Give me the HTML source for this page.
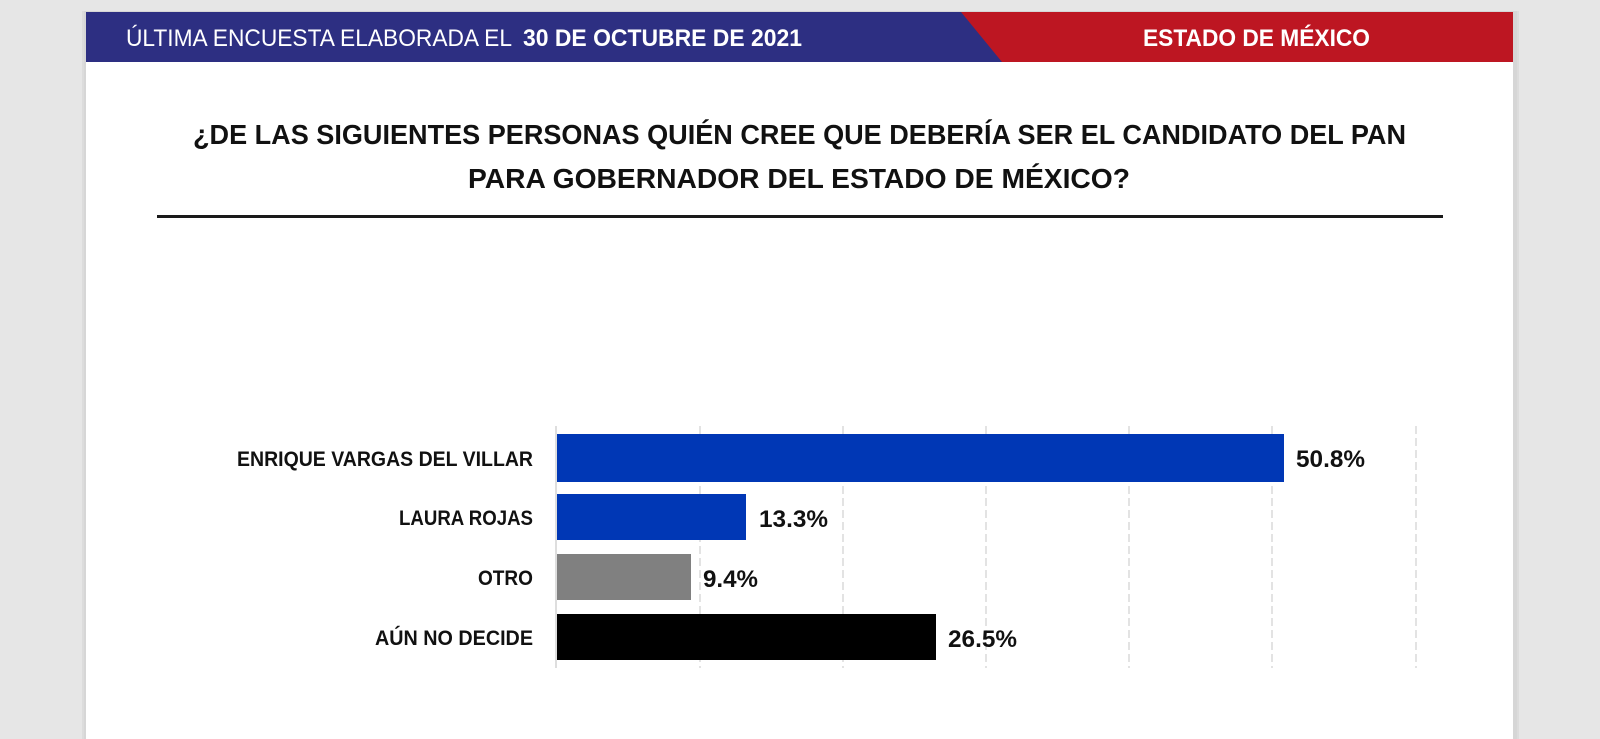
<!DOCTYPE html>
<html>
<head>
<meta charset="utf-8">
<style>
  html, body { margin: 0; padding: 0; background: #e6e6e6; }
  body { width: 1600px; height: 739px; overflow: hidden; }
  svg { display: block; }
  text { font-family: "Liberation Sans", Arial, sans-serif; }
</style>
</head>
<body>
<svg width="1600" height="739" viewBox="0 0 1600 739" xmlns="http://www.w3.org/2000/svg">
  <!-- page background -->
  <rect x="0" y="0" width="1600" height="739" fill="#e6e6e6"/>
  <!-- card shadow -->
  <rect x="82" y="11" width="1437" height="728" fill="#dcdcdc"/>
  <rect x="84" y="11" width="1433" height="728" fill="#d6d6d6"/>
  <!-- card -->
  <rect x="86" y="12" width="1427" height="727" fill="#ffffff"/>

  <!-- header band -->
  <rect x="86" y="12" width="1427" height="50" fill="#2d2f82"/>
  <polygon points="961,12 1513,12 1513,62 1002,62" fill="#bd1622"/>

  <text x="126" y="46" font-size="24" fill="#ffffff" textLength="386" lengthAdjust="spacingAndGlyphs">ÚLTIMA ENCUESTA ELABORADA EL</text>
  <text x="523" y="46" font-size="24" font-weight="bold" fill="#ffffff" textLength="279" lengthAdjust="spacingAndGlyphs">30 DE OCTUBRE DE 2021</text>
  <text x="1143" y="46" font-size="24" font-weight="bold" fill="#ffffff" textLength="227" lengthAdjust="spacingAndGlyphs">ESTADO DE MÉXICO</text>

  <!-- title -->
  <text x="193" y="144" font-size="28" font-weight="bold" fill="#111111" textLength="1213" lengthAdjust="spacingAndGlyphs">¿DE LAS SIGUIENTES PERSONAS QUIÉN CREE QUE DEBERÍA SER EL CANDIDATO DEL PAN</text>
  <text x="468" y="188" font-size="28" font-weight="bold" fill="#111111" textLength="662" lengthAdjust="spacingAndGlyphs">PARA GOBERNADOR DEL ESTADO DE MÉXICO?</text>

  <!-- rule -->
  <rect x="157" y="215" width="1286" height="3" fill="#1a1a1a"/>

  <!-- gridlines -->
  <g stroke="#d4d4d4" stroke-width="1.3" stroke-dasharray="8,4">
    <line x1="700" y1="426" x2="700" y2="668"/>
    <line x1="843" y1="426" x2="843" y2="668"/>
    <line x1="986" y1="426" x2="986" y2="668"/>
    <line x1="1129" y1="426" x2="1129" y2="668"/>
    <line x1="1272" y1="426" x2="1272" y2="668"/>
    <line x1="1416" y1="426" x2="1416" y2="668"/>
  </g>
  <!-- axis -->
  <line x1="556" y1="426" x2="556" y2="668" stroke="#d4d4d4" stroke-width="1.5"/>

  <!-- bars -->
  <rect x="557" y="434" width="727" height="48" fill="#0037b5"/>
  <rect x="557" y="494" width="189" height="46" fill="#0037b5"/>
  <rect x="557" y="554" width="134" height="46" fill="#808080"/>
  <rect x="557" y="614" width="379" height="46" fill="#000000"/>

  <!-- category labels -->
  <g font-size="21" font-weight="bold" fill="#111111" text-anchor="end">
    <text x="533" y="466" textLength="296" lengthAdjust="spacingAndGlyphs">ENRIQUE VARGAS DEL VILLAR</text>
    <text x="533" y="525" textLength="134" lengthAdjust="spacingAndGlyphs">LAURA ROJAS</text>
    <text x="533" y="585" textLength="55" lengthAdjust="spacingAndGlyphs">OTRO</text>
    <text x="533" y="645" textLength="158" lengthAdjust="spacingAndGlyphs">AÚN NO DECIDE</text>
  </g>

  <!-- value labels -->
  <g font-size="24" font-weight="bold" fill="#111111">
    <text x="1296" y="467" textLength="69" lengthAdjust="spacingAndGlyphs">50.8%</text>
    <text x="759" y="527" textLength="69" lengthAdjust="spacingAndGlyphs">13.3%</text>
    <text x="703" y="587" textLength="55" lengthAdjust="spacingAndGlyphs">9.4%</text>
    <text x="948" y="647" textLength="69" lengthAdjust="spacingAndGlyphs">26.5%</text>
  </g>
</svg>
</body>
</html>
